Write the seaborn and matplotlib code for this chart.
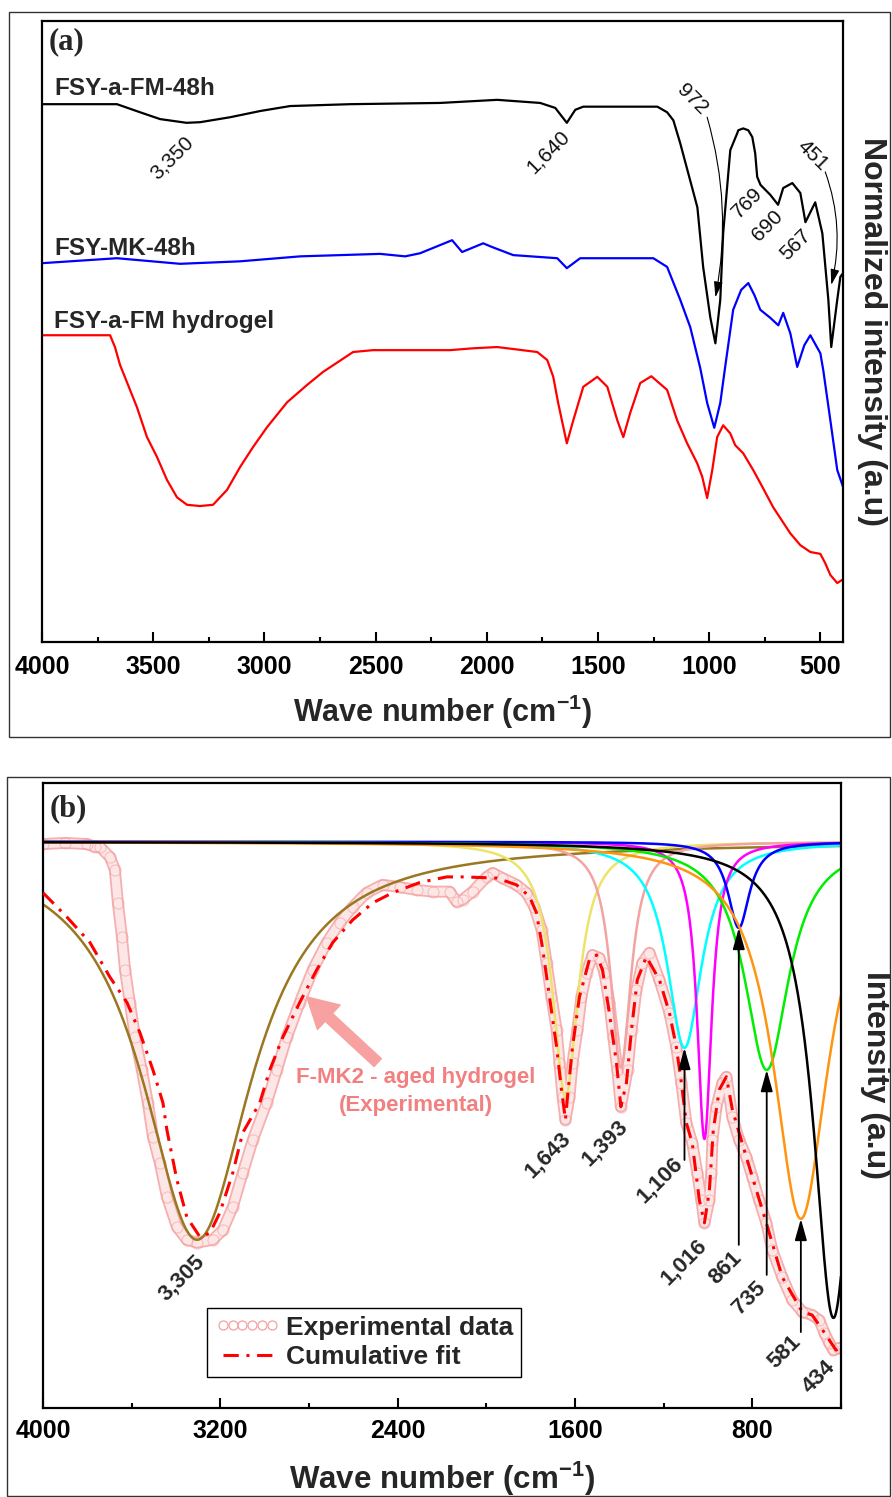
import numpy as np
import matplotlib
matplotlib.use("Agg")
import matplotlib.pyplot as plt
import seaborn as sns
from matplotlib.patches import Rectangle
from matplotlib.lines import Line2D

# ---------------- Panel (a): FTIR spectra (normalized, stacked) ----------------
fm48_wn = [4000, 3663, 3559, 3469, 3350, 3289, 3154, 3019, 2884, 2614,
           2210, 1953, 1760, 1692, 1640, 1602, 1566, 1233, 1189, 1161,
           1130, 1053, 1027, 995, 972, 950, 937, 905, 874, 869,
           847, 824, 806, 793, 784, 769, 725, 690, 667, 626,
           590, 567, 523, 491, 464, 451, 424, 410, 398]
fm48_int = [86.6, 86.6, 85.3, 84.2, 83.6, 83.7, 84.5, 85.5, 86.3, 86.6,
            86.8, 87.3, 86.8, 86.0, 83.6, 85.7, 86.2, 86.2, 85.3, 84.0,
            80.3, 70.0, 60.4, 52.3, 48.1, 55.1, 65.8, 79.2, 81.9, 82.4,
            82.7, 82.4, 81.3, 78.7, 74.9, 73.6, 72.0, 70.4, 73.1, 73.9,
            72.3, 67.6, 70.8, 65.8, 55.1, 47.5, 55.1, 58.8, 59.4]

mk48_wn = [4000, 3663, 3379, 3109, 2839, 2480, 2367, 2300, 2156, 2111,
           2016, 1976, 1881, 1683, 1640, 1580, 1251, 1189, 1130, 1085,
           1040, 1009, 977, 950, 928, 892, 856, 824, 797, 770,
           725, 689, 667, 635, 604, 572, 545, 500, 487, 455,
           424, 398]
mk48_int = [61.0, 61.8, 60.9, 61.3, 62.1, 62.5, 62.1, 62.6, 64.7, 62.8,
            64.2, 63.6, 62.3, 61.8, 60.2, 61.8, 61.8, 60.4, 55.1, 50.7,
            44.1, 38.5, 34.5, 38.5, 44.3, 53.5, 56.7, 57.8, 55.9, 53.5,
            52.2, 51.0, 53.0, 49.7, 44.3, 47.8, 49.4, 46.5, 43.8, 35.7,
            27.7, 25.0]

gel_wn = [4000, 3739, 3694, 3672, 3649, 3640, 3573, 3528, 3483, 3438,
          3393, 3348, 3290, 3231, 3168, 3109, 3051, 2988, 2898, 2808,
          2736, 2601, 2511, 2165, 2061, 1953, 1773, 1728, 1701, 1679,
          1640, 1611, 1566, 1503, 1458, 1413, 1386, 1355, 1310, 1260,
          1189, 1144, 1099, 1054, 1031, 1009, 986, 964, 937, 905,
          883, 847, 802, 761, 712, 635, 590, 545, 500, 478,
          455, 424, 398]
gel_int = [49.4, 49.4, 49.4, 47.5, 44.6, 43.8, 37.8, 33.0, 29.8, 26.1,
           23.3, 22.1, 21.9, 22.1, 24.5, 28.2, 31.4, 34.6, 38.6, 41.4,
           43.5, 46.7, 47.0, 47.0, 47.3, 47.5, 46.7, 45.4, 42.7, 38.5,
           32.0, 35.7, 41.1, 42.7, 41.1, 35.7, 33.0, 36.9, 41.7, 42.8,
           40.6, 35.7, 32.0, 28.8, 26.6, 23.2, 27.7, 33.0, 34.9, 33.6,
           31.7, 30.4, 27.7, 25.0, 21.7, 17.5, 15.6, 14.5, 14.2, 12.7,
           10.8, 9.5, 10.1]

series_a = ["FSY-a-FM-48h", "FSY-MK-48h", "FSY-a-FM hydrogel"]
colors_a = ["black", "#0000FF", "#FF0000"]

# band annotations of panel (a): text, x, y, rotation
band_text_a = ["3,350", "1,640", "972", "769", "690", "567", "451"]
band_x_a = [3415, 1724, 1076, 829, 739, 613, 536]
band_y_a = [77.9, 78.9, 87.3, 70.7, 67.0, 63.9, 78.4]
band_rot_a = [45, 45, -45, 45, 45, 45, -45]

# ---------------- Panel (b): peak deconvolution ----------------
exp_wn = [4000, 3900, 3800, 3766, 3743, 3698, 3676, 3662, 3644, 3630,
          3608, 3585, 3554, 3527, 3504, 3473, 3441, 3396, 3351, 3305,
          3234, 3189, 3144, 3099, 3054, 2991, 2945, 2900, 2842, 2783,
          2720, 2661, 2603, 2540, 2468, 2391, 2314, 2242, 2166, 2134,
          2107, 2062, 1999, 1972, 1927, 1864, 1819, 1783, 1751, 1728,
          1706, 1683, 1670, 1656, 1643, 1625, 1611, 1589, 1571, 1548,
          1521, 1490, 1467, 1445, 1427, 1409, 1393, 1363, 1345, 1323,
          1296, 1264, 1219, 1174, 1143, 1120, 1098, 1071, 1048, 1030,
          1016, 994, 985, 980, 962, 935, 917, 890, 859, 827,
          800, 769, 737, 710, 665, 620, 575, 530, 498, 475,
          453, 434, 408]
exp_int = [99.6, 99.8, 99.6, 99.1, 99.1, 97.3, 95.1, 89.2, 83.2, 77.4,
           71.6, 65.5, 59.7, 53.9, 47.9, 43.3, 37.3, 32.0, 29.7, 29.2,
           29.7, 31.4, 35.5, 41.5, 47.3, 53.9, 59.7, 65.5, 71.6, 77.4,
           82.2, 85.7, 88.5, 91.0, 92.4, 92.0, 91.5, 91.2, 91.2, 89.4,
           89.8, 91.2, 93.8, 94.5, 93.6, 92.4, 91.0, 88.5, 84.5, 78.6,
           72.6, 66.8, 61.0, 54.9, 50.9, 54.9, 61.0, 66.8, 72.6, 76.9,
           80.0, 79.5, 76.9, 71.6, 65.5, 59.7, 53.2, 59.7, 66.8, 73.9,
           78.6, 80.4, 75.6, 69.8, 63.8, 57.4, 50.4, 46.8, 41.5, 36.7,
           32.7, 36.7, 41.5, 47.3, 53.2, 57.4, 58.5, 51.4, 47.3, 44.3,
           40.8, 36.7, 32.7, 27.9, 23.1, 19.1, 17.0, 16.4, 15.5, 13.3,
           11.5, 10.2, 10.6]

fit_wn = [4000, 3892, 3788, 3698, 3621, 3563, 3504, 3459, 3441, 3396,
          3351, 3292, 3247, 3202, 3144, 3099, 3022, 2977, 2918, 2842,
          2765, 2693, 2603, 2513, 2423, 2301, 2179, 2107, 1954, 1864,
          1805, 1774, 1747, 1715, 1683, 1661, 1643, 1634, 1611, 1580,
          1535, 1503, 1476, 1445, 1413, 1393, 1368, 1345, 1319, 1278,
          1219, 1174, 1143, 1120, 1098, 1071, 1039, 1016, 994, 976,
          949, 917, 890, 827, 737, 665, 575, 530, 475, 422,
          404]
fit_int = [91.0, 86.7, 82.2, 76.1, 71.6, 66.3, 59.7, 53.9, 49.1, 40.3,
           33.7, 30.2, 30.9, 34.5, 41.5, 48.6, 53.9, 59.7, 65.5, 71.6,
           77.4, 82.2, 86.2, 89.2, 91.0, 92.8, 93.8, 93.8, 93.6, 92.4,
           90.3, 87.5, 81.4, 72.6, 63.8, 56.2, 50.9, 54.9, 63.8, 72.6,
           79.2, 80.0, 77.4, 69.8, 61.0, 53.2, 57.4, 66.8, 75.6, 79.7,
           75.6, 69.8, 63.8, 57.4, 50.4, 46.8, 36.7, 32.7, 38.3, 49.1,
           56.2, 58.5, 52.7, 44.3, 32.7, 23.1, 17.0, 16.4, 13.3, 10.2,
           10.6]

# fitted Lorentzian components: centre, depth below baseline, half width
peak_centers = [3305, 1643, 1393, 1106, 1016, 861, 735, 581, 434]
peak_depths = [70.3, 45.1, 39.9, 36.4, 52.5, 15.2, 40.3, 66.6, 84.1]
peak_hwhm = [300, 70, 56, 95, 40, 59, 122, 150, 110]
peak_colors = ["#9A7720", "#ECE46A", "#F4A3A3", "#00FFFF", "#FF00FF",
               "#0000FF", "#00EE00", "#FF9411", "#000000"]
baseline_b = 100.0

peak_text_b = ["3,305", "1,643", "1,393", "1,106", "1,016", "861", "735", "581", "434"]
peak_text_x = [3373, 1724, 1466, 1219, 1107, 922, 814, 656, 500]
peak_text_y = [23.0, 44.7, 46.8, 40.3, 25.8, 24.7, 19.4, 9.9, 5.5]

# arrows from the labels up to the component minima
arrow_peaks = [1106, 861, 735, 581]
arrow_tail_y = [43.8, 28.8, 23.5, 13.4]

# ---------------- styling ----------------
sns.set_theme(style="white")
plt.rcParams["font.family"] = ["Liberation Sans", "DejaVu Sans"]
plt.rcParams["mathtext.fontset"] = "custom"
plt.rcParams["mathtext.bf"] = "Liberation Sans:bold"
plt.rcParams["mathtext.rm"] = "Liberation Sans:bold"
plt.rcParams["mathtext.default"] = "bf"

fig = plt.figure(figsize=(8.92, 14.97), dpi=100)
ax_a = fig.add_axes([0.0471, 0.5711, 0.8980, 0.4149])
ax_b = fig.add_axes([0.0482, 0.0595, 0.8946, 0.4175])

# outer panel frames
fig.add_artist(Rectangle((0.0101, 0.5077), 0.9877, 0.4843, transform=fig.transFigure,
                         fill=False, ec="#333333", lw=1.0))
fig.add_artist(Rectangle((0.0078, 0.0007), 0.9900, 0.4803, transform=fig.transFigure,
                         fill=False, ec="#333333", lw=1.0))


def style_axes(ax, xlim, ylim, major, minor, pad):
    ax.set_xlim(*xlim)
    ax.set_ylim(*ylim)
    ax.set_xticks(major)
    ax.set_xticks(minor, minor=True)
    ax.set_yticks([])
    ax.tick_params(axis="x", which="both", bottom=True, top=False, direction="in",
                   width=1.5, colors="black")
    ax.tick_params(axis="x", which="major", length=7.5, pad=pad, labelsize=18)
    ax.tick_params(axis="x", which="minor", length=3.8)
    plt.setp(ax.get_xticklabels(), fontweight="bold")
    for s in ax.spines.values():
        s.set_visible(True)
        s.set_color("black")
        s.set_linewidth(1.6)


# ---- panel (a)
for wn, it, col in zip([fm48_wn, mk48_wn, gel_wn], [fm48_int, mk48_int, gel_int], colors_a):
    sns.lineplot(x=wn, y=it, ax=ax_a, color=col, lw=1.6, sort=False, estimator=None)

style_axes(ax_a, (4000, 398), (0, 100), [4000, 3500, 3000, 2500, 2000, 1500, 1000, 500],
           [3750, 3250, 2750, 2250, 1750, 1250, 750], pad=9.5)

for name, y in zip(series_a, [88.1, 62.3, 50.6]):
    ax_a.text(3946, y, name, fontsize=17.5, fontweight="bold", ha="left", va="baseline")

for t, x, y, r in zip(band_text_a, band_x_a, band_y_a, band_rot_a):
    ax_a.text(x, y, t, fontsize=15, rotation=r, ha="center", va="center", color="#111111")

head_a = "-|>,head_length=0.5,head_width=0.14"
ax_a.annotate("", xy=(972, 55.5), xytext=(1009, 84.5),
              arrowprops=dict(arrowstyle=head_a, color="black", lw=0.8, mutation_scale=19,
                              shrinkA=0, shrinkB=0, connectionstyle="arc3,rad=-0.12"))
ax_a.annotate("", xy=(451, 57.5), xytext=(478, 75.7),
              arrowprops=dict(arrowstyle=head_a, color="black", lw=0.8, mutation_scale=19,
                              shrinkA=0, shrinkB=0, connectionstyle="arc3,rad=-0.15"))

ax_a.text(0.008, 0.955, "(a)", transform=ax_a.transAxes, fontsize=22, fontweight="bold",
          family="Liberation Serif", ha="left", va="baseline")

ax_a.set_xlabel(r"Wave number (cm$^{-1}$)", fontsize=22, fontweight="bold")
ax_a.xaxis.set_label_coords(0.5, -0.1127)
ax_a.xaxis.label.set_va("center")
ax_a.set_ylabel("Normalized intensity (a.u)", fontsize=23, fontweight="bold", rotation=270)
ax_a.yaxis.set_label_position("right")
ax_a.yaxis.set_label_coords(1.036, 0.5)
ax_a.yaxis.label.set_va("center")
ax_a.yaxis.label.set_ha("center")

# ---- panel (b)
# experimental spectrum drawn as a band of open circles
ax_b.plot(exp_wn, exp_int, color="#F6AFAF", lw=8.6, solid_capstyle="round", zorder=1)
ax_b.plot(exp_wn, exp_int, color="#FDE6E6", lw=6.0, solid_capstyle="round", zorder=1.1)
ax_b.plot(exp_wn, exp_int, ls="none", marker="o", ms=8, mfc="none", mec="#F39B9B",
          mew=0.7, alpha=0.6, zorder=1.2)

wn_grid = np.linspace(4000, 400, 1801)
for c, d, g, col in zip(peak_centers, peak_depths, peak_hwhm, peak_colors):
    comp = baseline_b - d / (1.0 + ((wn_grid - c) / g) ** 2)
    sns.lineplot(x=wn_grid, y=comp, ax=ax_b, color=col, lw=1.8, sort=False,
                 estimator=None, zorder=2)

sns.lineplot(x=fit_wn, y=fit_int, ax=ax_b, color="#FF0000", lw=2.2, sort=False,
             estimator=None, zorder=3, linestyle=(0, (5, 2.5, 1, 2.5)))

head_b = "-|>,head_length=0.5,head_width=0.14"
for c, ty in zip(arrow_peaks, arrow_tail_y):
    tip = baseline_b - peak_depths[peak_centers.index(c)]
    ax_b.annotate("", xy=(c, tip), xytext=(c, ty),
                  arrowprops=dict(arrowstyle=head_b, color="black", lw=1.3,
                                  mutation_scale=26, shrinkA=0, shrinkB=0), zorder=4)

for t, x, y in zip(peak_text_b, peak_text_x, peak_text_y):
    ax_b.text(x, y, t, fontsize=16, fontweight="bold", rotation=45, ha="center", va="center")

ax_b.annotate("", xy=(2810, 72.6), xytext=(2490, 61.0),
              arrowprops=dict(arrowstyle="simple,head_length=0.9,head_width=1.0,tail_width=0.32",
                              fc="#F7A1A1", ec="#F7A1A1", mutation_scale=24,
                              shrinkA=0, shrinkB=0))
ax_b.text(2319, 58.3, "F-MK2 - aged hydrogel", color="#F28080", fontsize=16,
          fontweight="bold", ha="center", va="center")
ax_b.text(2319, 53.4, "(Experimental)", color="#F28080", fontsize=16,
          fontweight="bold", ha="center", va="center")

style_axes(ax_b, (4000, 403), (0, 110.4), [4000, 3200, 2400, 1600, 800],
           [3600, 2800, 2000, 1200, 400], pad=8)

ax_b.text(0.008, 0.947, "(b)", transform=ax_b.transAxes, fontsize=22, fontweight="bold",
          family="Liberation Serif", ha="left", va="baseline")

handles = [Line2D([], [], ls="none", marker="o", mfc="none", mec="#F4A0A0", ms=6.5, mew=0.9),
           Line2D([], [], color="#FF0000", lw=2.2, ls=(0, (5, 2.5, 1, 2.5)))]
leg = ax_b.legend(handles, ["Experimental data", "Cumulative fit"], loc="lower left",
                  bbox_to_anchor=(0.2055, 0.0496), borderaxespad=0, frameon=True,
                  fancybox=False, edgecolor="black", framealpha=1, numpoints=6,
                  handlelength=2.45, handletextpad=0.25, borderpad=0.3, labelspacing=0.2,
                  prop={"weight": "bold", "size": 19})
leg.get_frame().set_linewidth(1.0)

ax_b.set_xlabel(r"Wave number (cm$^{-1}$)", fontsize=22.5, fontweight="bold")
ax_b.xaxis.set_label_coords(0.5, -0.1296)
ax_b.xaxis.label.set_va("baseline")
ax_b.set_ylabel("Intensity (a.u)", fontsize=23, fontweight="bold", rotation=270)
ax_b.yaxis.set_label_position("right")
ax_b.yaxis.set_label_coords(1.0426, 0.533)
ax_b.yaxis.label.set_va("center")
ax_b.yaxis.label.set_ha("center")

fig.savefig("out.png", dpi=100)
